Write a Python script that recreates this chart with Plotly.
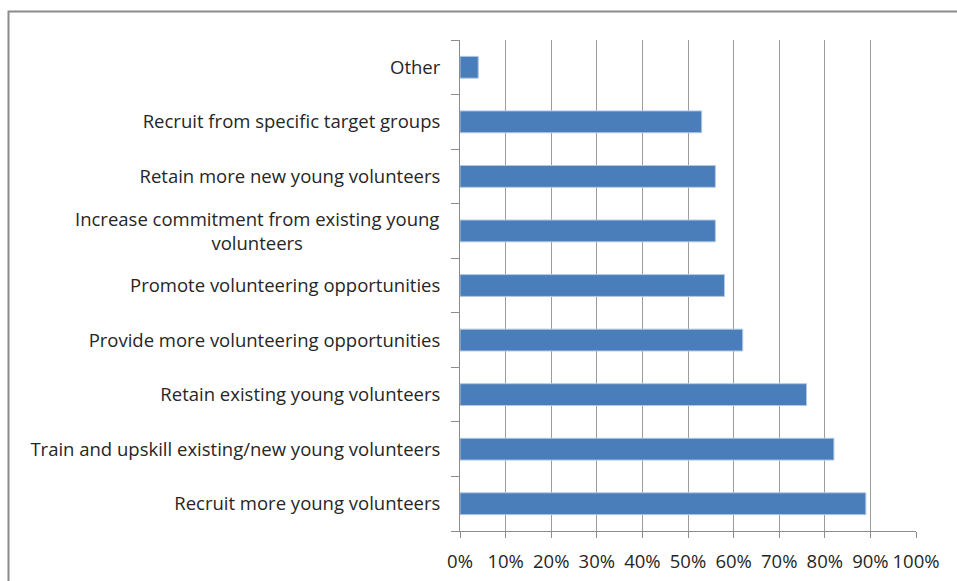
import plotly.graph_objects as go

categories = [
    "Other",
    "Recruit from specific target groups",
    "Retain more new young volunteers",
    "Increase commitment from existing young volunteers",
    "Promote volunteering opportunities",
    "Provide more volunteering opportunities",
    "Retain existing young volunteers",
    "Train and upskill existing/new young volunteers",
    "Recruit more young volunteers",
]
values = [0.04, 0.53, 0.56, 0.56, 0.58, 0.62, 0.76, 0.82, 0.89]
x_ticks = [0, 0.1, 0.2, 0.3, 0.4, 0.5, 0.6, 0.7, 0.8, 0.9, 1.0]
wrapped_label = "Increase commitment from existing young<br>volunteers"

FONT = "Open Sans"
FS = 18.5
W, H = 957, 581
L, R, T, B = 460, 41, 40, 50
PW, PH = W - L - R, H - T - B

ticktext = ["" if c.startswith("Increase") else c for c in categories]

fig = go.Figure(
    go.Bar(
        x=values,
        y=categories,
        orientation="h",
        marker=dict(color="#4A7EBB", line=dict(color="#B3C8E2", width=1)),
        width=0.4,
        hoverinfo="skip",
    )
)

fig.update_layout(
    width=W,
    height=H,
    margin=dict(l=L, r=R, t=T, b=B, autoexpand=False),
    paper_bgcolor="white",
    plot_bgcolor="white",
    showlegend=False,
    font=dict(family=FONT, size=FS, color="#262626"),
    xaxis=dict(
        range=[0, 1],
        tickvals=x_ticks,
        tickformat=".0%",
        showgrid=True,
        gridcolor="#9C9C9C",
        gridwidth=1,
        showline=True,
        linecolor="#8C8C8C",
        linewidth=1,
        ticks="outside",
        ticklen=6,
        tickcolor="#8C8C8C",
        zeroline=False,
        ticklabelstandoff=8,
        tickfont=dict(size=FS),
    ),
    yaxis=dict(
        autorange="reversed",
        tickmode="array",
        tickvals=categories,
        ticktext=ticktext,
        showgrid=False,
        showline=True,
        linecolor="#8C8C8C",
        linewidth=1,
        ticks="outside",
        tickson="boundaries",
        ticklen=8,
        tickcolor="#8C8C8C",
        zeroline=False,
        ticklabelstandoff=15,
        tickfont=dict(size=FS),
    ),
    shapes=[
        dict(
            type="rect",
            xref="paper",
            yref="paper",
            x0=(8.5 - L) / PW,
            x1=(W + 20 - L) / PW,
            y0=1 - (H + 20 - T) / PH,
            y1=1 - (11.5 - T) / PH,
            line=dict(color="#8C8C8C", width=2),
            fillcolor="rgba(0,0,0,0)",
            layer="below",
        )
    ],
    annotations=[
        dict(
            xref="paper",
            yref="y",
            x=0,
            y=categories[3],
            text=wrapped_label,
            showarrow=False,
            xanchor="right",
            yanchor="middle",
            xshift=-19,
            align="center",
            font=dict(family=FONT, size=FS, color="#262626"),
        )
    ],
)

fig.write_html(
    "out.html",
    config={"displayModeBar": False},
    post_script="document.body.style.margin='0px';document.body.style.overflow='hidden';",
)
